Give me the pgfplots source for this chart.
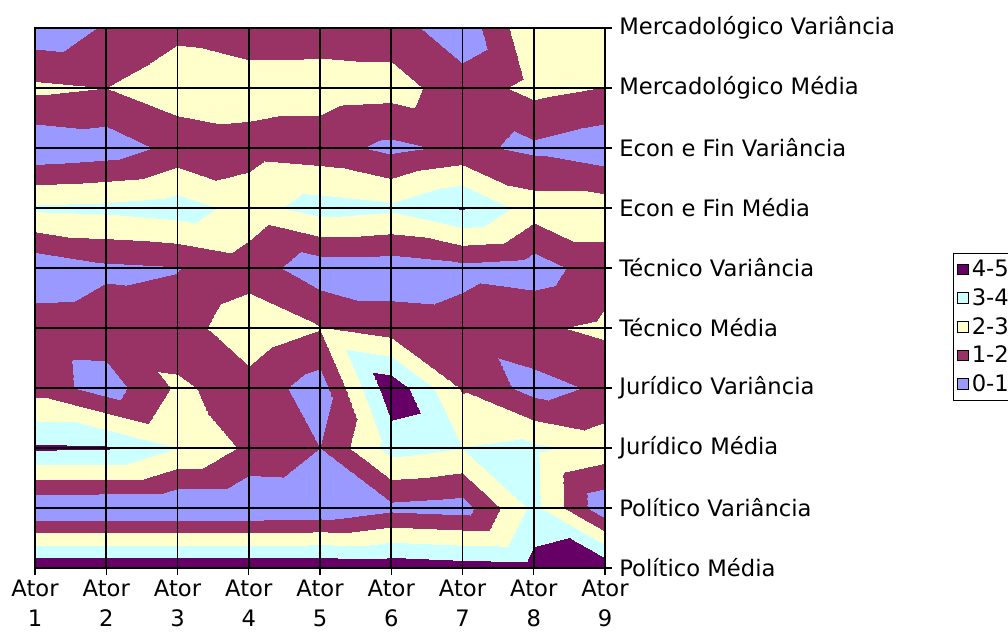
\documentclass[border=0pt]{standalone}
\usepackage{pgfplots}
\usepackage{pgfplotstable}
\pgfplotsset{compat=1.18}
\usepackage{fontspec}
\setmainfont{DejaVu Sans}
\definecolor{cA}{RGB}{153,153,255}
\definecolor{cB}{RGB}{153,51,102}
\definecolor{cC}{RGB}{255,255,204}
\definecolor{cD}{RGB}{204,255,255}
\definecolor{cE}{RGB}{102,0,102}
% x = Ator index, y = category index (0 = Politico Media ... 9 = Mercadologico Variancia), z = value
\pgfplotstableread{
x y z
1 0 4.8
2 0 4.8
3 0 4.8
4 0 4.8
5 0 4.8
6 0 4.7
7 0 4.5
8 0 4.4
9 0 4.75
1 1 0.05
2 1 0.05
3 1 0.05
4 1 0.05
5 1 0.15
6 1 0.74
7 1 0.55
8 1 3.27
9 1 0.25
1 2 4.15
2 2 4.1
3 2 3.02
4 2 1.8
5 2 1.0
6 2 3.4
7 2 3.02
8 2 3.2
9 2 2.6
1 3 1.6
2 3 0.5
3 3 2.15
4 3 1.6
5 3 0.5
6 3 4.7
7 3 1.9
8 3 0.6
9 3 1.2
1 4 1.54
2 4 1.6
3 4 1.5
4 4 2.7
5 4 2.05
6 4 1.5
7 4 1.4
8 4 1.85
9 4 2.2
1 5 0.25
2 5 0.8
3 5 0.95
4 5 1.5
5 5 0.4
6 5 0.4
7 5 0.72
8 5 0.5
9 5 1.6
1 6 3.15
2 6 3.25
3 6 3.5
4 6 2.6
5 6 3.45
6 6 3.2
7 6 4.1
8 6 2.5
9 6 2.5
1 7 0.2
2 7 0.43
3 7 1.3
4 7 1.6
5 7 1.4
6 7 0.75
7 7 1.2
8 7 0.8
9 7 0.35
1 8 2.2
2 8 2.0
3 8 2.6
4 8 2.5
5 8 2.5
6 8 2.4
7 8 1.5
8 8 2.3
9 8 1.97
1 9 0.35
2 9 1.1
3 9 1.76
4 9 1.43
5 9 1.5
6 9 1.5
7 9 0.3
8 9 2.9
9 9 2.6
}\surfdata
\begin{document}
\begin{tikzpicture}
\begin{axis}[
  at={(0pt,0pt)}, anchor=south west,
  scale only axis, width=427.5pt, height=405pt,
  xmin=1, xmax=9, ymin=0, ymax=9,
  xtick={1,...,9},
  xticklabels={{Ator\\1},{Ator\\2},{Ator\\3},{Ator\\4},{Ator\\5},{Ator\\6},{Ator\\7},{Ator\\8},{Ator\\9}},
  xticklabel style={align=center, font=\fontsize{17}{22.5}\selectfont},
  ytick={0,...,9},
  yticklabels={Político Média, Político Variância, Jurídico Média, Jurídico Variância, Técnico Média, Técnico Variância, Econ e Fin Média, Econ e Fin Variância, Mercadológico Média, Mercadológico Variância},
  yticklabel style={font=\fontsize{17}{20}\selectfont, xshift=2pt},
  yticklabel pos=right, ytick pos=right, xtick pos=bottom,
  tick align=outside, major tick length=5.25pt,
  tick style={black, line width=0.9pt},
  grid=major, grid style={black, line width=1.4pt},
  axis on top,
  axis line style={black, line width=1pt},
  colormap={excel}{color(0)=(cA) color(1)=(cB) color(2)=(cC) color(3)=(cD) color(4)=(cE) color(5)=(cE)},
  colormap access=piecewise constant,
  point meta min=0, point meta max=5,
  legend style={at={(1.6105,0.583)}, anchor=north west, draw=black, line width=0.75pt,
    font=\fontsize{17}{18}\selectfont, row sep=3.4pt, inner sep=3pt},
  legend cell align=left,
  legend image code/.code={\draw[#1] (0pt,-4pt) rectangle (8pt,4pt);},
]
\addlegendimage{fill=cE, draw=black, line width=0.75pt}
\addlegendentry{4-5}
\addlegendimage{fill=cD, draw=black, line width=0.75pt}
\addlegendentry{3-4}
\addlegendimage{fill=cC, draw=black, line width=0.75pt}
\addlegendentry{2-3}
\addlegendimage{fill=cB, draw=black, line width=0.75pt}
\addlegendentry{1-2}
\addlegendimage{fill=cA, draw=black, line width=0.75pt}
\addlegendentry{0-1}
\addplot[surf, shader=interp, mesh/cols=9, mesh/rows=10, point meta=explicit, forget plot]
  table[x=x, y=y, meta=z] {\surfdata};
\end{axis}
\pgfresetboundingbox
\path (-26.25pt,-50.25pt) rectangle (729.75pt,426pt);
\end{tikzpicture}
\end{document}
